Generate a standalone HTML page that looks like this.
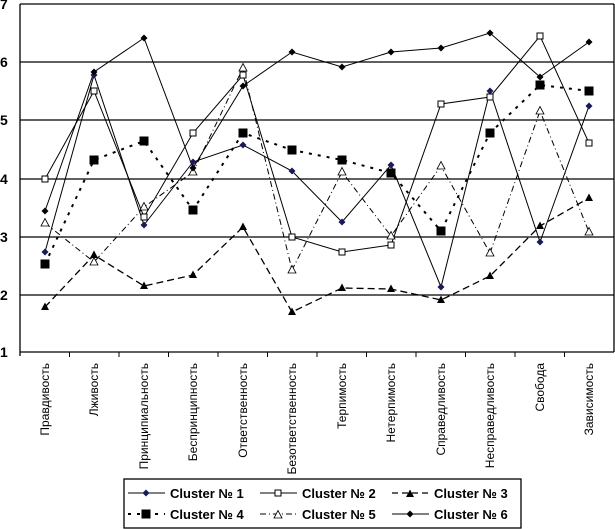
<!DOCTYPE html>
<html><head><meta charset="utf-8"><style>body{margin:0;background:#fff}svg{display:block}</style></head><body>
<svg width="615" height="529" xmlns="http://www.w3.org/2000/svg" font-family="Liberation Sans, sans-serif">
<defs>
<path id="dm" d="M0,-3.5L3.5,0L0,3.5L-3.5,0Z"/>
<path id="sq" d="M-3,-3H3V3H-3Z"/>
<path id="bsq" d="M-4.5,-4.5H4.5V4.5H-4.5Z"/>
<path id="tr" d="M0,-4.5L4,3L-4,3Z"/>
</defs>
<g stroke="#000" stroke-width="1.3">
<line x1="20" y1="4" x2="614" y2="4"/><line x1="20" y1="62" x2="614" y2="62"/><line x1="20" y1="120" x2="614" y2="120"/><line x1="20" y1="179" x2="614" y2="179"/><line x1="20" y1="237" x2="614" y2="237"/><line x1="20" y1="295" x2="614" y2="295"/>
<line x1="20" y1="352" x2="614" y2="352"/><line x1="20" y1="4" x2="20" y2="356"/><line x1="614" y1="4" x2="614" y2="352"/>
</g>
<g stroke="#000" stroke-width="1">
<line x1="69.5" y1="352" x2="69.5" y2="357"/><line x1="119" y1="352" x2="119" y2="357"/><line x1="168.5" y1="352" x2="168.5" y2="357"/><line x1="218" y1="352" x2="218" y2="357"/><line x1="267.5" y1="352" x2="267.5" y2="357"/><line x1="317" y1="352" x2="317" y2="357"/><line x1="366.5" y1="352" x2="366.5" y2="357"/><line x1="416" y1="352" x2="416" y2="357"/><line x1="465.5" y1="352" x2="465.5" y2="357"/><line x1="515" y1="352" x2="515" y2="357"/><line x1="564.5" y1="352" x2="564.5" y2="357"/>
</g>
<g font-size="14" font-weight="bold" text-anchor="start">
<text x="0" y="9">7</text><text x="0" y="67">6</text><text x="0" y="125">5</text><text x="0" y="184">4</text><text x="0" y="242">3</text><text x="0" y="300">2</text><text x="0" y="357">1</text>
</g>
<g font-size="12" text-anchor="end">
<text transform="translate(49,363) rotate(-90)">Правдивость</text>
<text transform="translate(98,363) rotate(-90)">Лживость</text>
<text transform="translate(148,363) rotate(-90)">Принципиальность</text>
<text transform="translate(197,363) rotate(-90)">Беспринципность</text>
<text transform="translate(247,363) rotate(-90)">Ответственность</text>
<text transform="translate(296,363) rotate(-90)">Безответственность</text>
<text transform="translate(346,363) rotate(-90)">Терпимость</text>
<text transform="translate(395,363) rotate(-90)">Нетерпимость</text>
<text transform="translate(445,363) rotate(-90)">Справедливость</text>
<text transform="translate(494,363) rotate(-90)">Несправедливость</text>
<text transform="translate(544,363) rotate(-90)">Свобода</text>
<text transform="translate(593,363) rotate(-90)">Зависимость</text>
</g>
<g fill="none" stroke="#000">
<polyline stroke-width="1" points="45,252 94,75 144,225 193,162 243,145 292,171 342,222 391,165 441,287 490,91 540,242 589,106"/>
<polyline stroke-width="1" points="45,179 94,91 144,217 193,133 243,75 292,237 342,252 391,245 441,104 490,97 540,36 589,143"/>
<polyline stroke-width="1.3" stroke-dasharray="7,4" points="45,307 94,255 144,286 193,275 243,227 292,312 342,288 391,289 441,300 490,276 540,226 589,198"/>
<polyline stroke-width="2" stroke-dasharray="3,6" points="45,264 94,160 144,141 193,210 243,133 292,150 342,160 391,173 441,231 490,133 540,85 589,91"/>
<polyline stroke-width="1" stroke-dasharray="6,3,1,3" points="45,223 94,262 144,207 193,172 243,68 292,270 342,172 391,236 441,166 490,253 540,111 589,232"/>
<polyline stroke-width="1" points="45,211 94,72 144,38 193,168 243,86 292,52 342,67 391,52 441,48 490,33 540,77 589,42"/>
</g>
<g fill="#1a1a5a"><use href="#dm" x="45" y="252"/><use href="#dm" x="94" y="75"/><use href="#dm" x="144" y="225"/><use href="#dm" x="193" y="162"/><use href="#dm" x="243" y="145"/><use href="#dm" x="292" y="171"/><use href="#dm" x="342" y="222"/><use href="#dm" x="391" y="165"/><use href="#dm" x="441" y="287"/><use href="#dm" x="490" y="91"/><use href="#dm" x="540" y="242"/><use href="#dm" x="589" y="106"/></g>
<g fill="#fff" stroke="#000"><use href="#sq" x="45" y="179"/><use href="#sq" x="94" y="91"/><use href="#sq" x="144" y="217"/><use href="#sq" x="193" y="133"/><use href="#sq" x="243" y="75"/><use href="#sq" x="292" y="237"/><use href="#sq" x="342" y="252"/><use href="#sq" x="391" y="245"/><use href="#sq" x="441" y="104"/><use href="#sq" x="490" y="97"/><use href="#sq" x="540" y="36"/><use href="#sq" x="589" y="143"/></g>
<g fill="#000"><use href="#tr" x="45" y="307"/><use href="#tr" x="94" y="255"/><use href="#tr" x="144" y="286"/><use href="#tr" x="193" y="275"/><use href="#tr" x="243" y="227"/><use href="#tr" x="292" y="312"/><use href="#tr" x="342" y="288"/><use href="#tr" x="391" y="289"/><use href="#tr" x="441" y="300"/><use href="#tr" x="490" y="276"/><use href="#tr" x="540" y="226"/><use href="#tr" x="589" y="198"/></g>
<g fill="#000"><use href="#bsq" x="45" y="264"/><use href="#bsq" x="94" y="160"/><use href="#bsq" x="144" y="141"/><use href="#bsq" x="193" y="210"/><use href="#bsq" x="243" y="133"/><use href="#bsq" x="292" y="150"/><use href="#bsq" x="342" y="160"/><use href="#bsq" x="391" y="173"/><use href="#bsq" x="441" y="231"/><use href="#bsq" x="490" y="133"/><use href="#bsq" x="540" y="85"/><use href="#bsq" x="589" y="91"/></g>
<g fill="#fff" stroke="#000" stroke-width="0.8"><use href="#tr" x="45" y="223"/><use href="#tr" x="94" y="262"/><use href="#tr" x="144" y="207"/><use href="#tr" x="193" y="172"/><use href="#tr" x="243" y="68"/><use href="#tr" x="292" y="270"/><use href="#tr" x="342" y="172"/><use href="#tr" x="391" y="236"/><use href="#tr" x="441" y="166"/><use href="#tr" x="490" y="253"/><use href="#tr" x="540" y="111"/><use href="#tr" x="589" y="232"/></g>
<g fill="#000"><use href="#dm" x="45" y="211"/><use href="#dm" x="94" y="72"/><use href="#dm" x="144" y="38"/><use href="#dm" x="193" y="168"/><use href="#dm" x="243" y="86"/><use href="#dm" x="292" y="52"/><use href="#dm" x="342" y="67"/><use href="#dm" x="391" y="52"/><use href="#dm" x="441" y="48"/><use href="#dm" x="490" y="33"/><use href="#dm" x="540" y="77"/><use href="#dm" x="589" y="42"/></g>
<rect x="124" y="479" width="397" height="49" fill="#fff" stroke="#000" stroke-width="1.3"/>
<g stroke="#000" fill="none">
<line x1="128" y1="493" x2="165" y2="493"/>
<line x1="260" y1="493" x2="297" y2="493"/>
<line x1="392" y1="493" x2="429" y2="493" stroke-dasharray="6,4" stroke-width="1.3"/>
<line x1="128" y1="514" x2="165" y2="514" stroke-dasharray="3,6" stroke-width="2"/>
<line x1="260" y1="514" x2="297" y2="514" stroke-dasharray="6,3,1,3"/>
<line x1="392" y1="514" x2="429" y2="514"/>
</g>
<use href="#dm" x="146" y="493" fill="#1a1a5a"/>
<use href="#sq" x="278" y="493" fill="#fff" stroke="#000"/>
<use href="#tr" x="410" y="494" fill="#000"/>
<use href="#bsq" x="146" y="514" fill="#000"/>
<use href="#tr" x="278" y="515" fill="#fff" stroke="#000" stroke-width="0.8"/>
<use href="#dm" x="410" y="514" fill="#000"/>
<g font-size="13" font-weight="bold">
<text x="170" y="498">Cluster № 1</text><text x="302" y="498">Cluster № 2</text><text x="434" y="498">Cluster № 3</text>
<text x="170" y="519">Cluster № 4</text><text x="302" y="519">Cluster № 5</text><text x="434" y="519">Cluster № 6</text>
</g>
</svg>
</body></html>
